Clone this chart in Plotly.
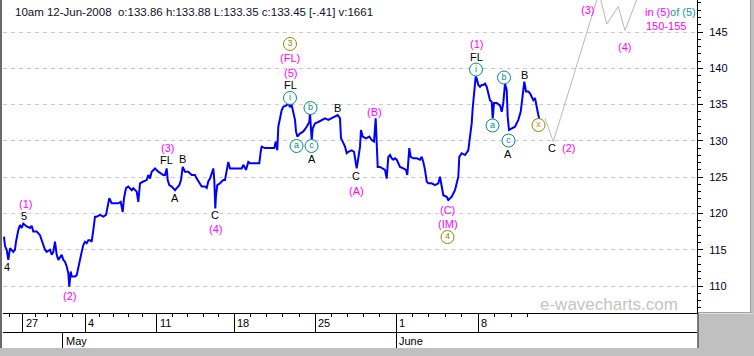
import numpy as np
import plotly.graph_objects as go

# ---------------- data ----------------
bars = [1, 2, 3.7, 5.3, 7, 10.3, 12, 13, 15.3, 17, 18.7, 20.3, 23.7, 27, 28.7, 30.3, 33.7, 37, 38.7, 40.3,
        42, 43.7, 47, 48.7, 50.3, 52, 53.7, 55.3, 57, 58.7, 60.3, 62, 63.7, 65.3, 66.3, 67.7, 68.7, 72, 73.7, 75.3,
        77, 78.7, 80.3, 82, 83.7, 85.3, 87, 88.7, 90.3, 92, 93.7, 97, 100.3, 103, 104.3, 106.3, 108.7, 112, 115.3, 117.7,
        119.7, 121, 123, 125.3, 128.7, 130.3, 133.7, 135.3, 137, 140.3, 143.7, 145.3, 147, 148.7, 150.3, 152, 155.3, 158.7, 160.3, 162,
        163.7, 164.7, 166.3, 168.7, 172, 173.7, 176.3, 178, 179.7, 182, 185.3, 188.7, 192, 193.7, 195.3, 197, 198.7, 202, 203.7, 205.3,
        207, 208.7, 210.3, 211.3, 212.3, 213, 214.3, 217, 220.3, 222, 223.7, 225.3, 227, 230.3, 233.7, 236.3, 238.7, 240.3, 243, 245.3,
        247, 250.3, 253.7, 256.3, 257.7, 258.7, 262, 265.3, 268.7, 271.3, 272.7, 274.3, 275.3, 277, 278.7, 280.3, 283.7, 285, 287, 288.7,
        290.3, 292, 293, 294.3, 297, 300.3, 303.7, 306.3, 307, 308, 308.7, 309.7, 312, 315.3, 318.7, 322, 325.3, 328.7, 332, 334.7,
        337, 338, 339.7, 342, 343.7, 345.3, 348.7, 351, 352.3, 353.7, 355.3, 357, 358, 359.7, 363, 366.3, 368.7, 371, 372.7, 373.7,
        374.7, 377, 380.3, 382, 383.7, 385.3, 387, 388.7, 390.3, 392, 393.7, 397, 400.3, 403, 404.3, 406.3, 407.7, 410.3, 413.7, 417,
        418.7, 420.3, 422, 423.7, 425.3, 428.7, 432, 435.3, 437, 438.7, 440.3, 443.7, 445.3, 448.7, 452, 453.7, 455.3, 456.3, 458.7, 462,
        465.3, 467, 468.7, 469.7, 471, 472.7, 473.7, 475.3, 477, 478.7, 480.3, 482, 483.7, 485.3, 487, 488.7, 489.7, 491, 493.7, 497,
        498.7, 500.3, 502, 503.7, 504.7, 506, 508.7, 512, 515.3, 517.7, 519.7, 521.3, 523, 525.3, 527, 528.7, 530.3, 532, 533.7, 535.3, 536.3]
prices = [116.8, 115.5, 115.0, 113.6, 115.2, 114.7, 115.0, 116.1, 117.7, 118.4, 118.0, 118.6, 118.2, 118.0, 118.3, 117.5, 117.5, 117.0, 116.3, 115.7,
          115.0, 114.7, 115.0, 114.3, 114.7, 116.1, 114.3, 113.6, 114.0, 114.3, 113.6, 113.35, 112.7, 111.75, 109.9, 112.0, 111.3, 111.3, 111.5, 112.7,
          113.6, 114.7, 115.65, 116.1, 115.9, 116.3, 116.3, 116.1, 117.7, 119.55, 119.55, 119.8, 119.55, 119.8, 120.7, 122.1, 121.4, 121.4, 121.4, 121.6,
          120.2, 122.1, 123.5, 123.7, 123.2, 123.46, 123.0, 121.6, 124.15, 124.4, 124.6, 125.3, 124.8, 125.75, 126.0, 126.2, 125.75, 125.5, 125.3, 125.3,
          126.2, 124.6, 123.9, 123.7, 123.2, 123.5, 123.9, 124.6, 126.4, 125.75, 125.75, 125.3, 125.3, 124.8, 124.4, 124.15, 123.7, 123.7, 123.5, 124.4,
          124.8, 125.5, 126.2, 124.6, 120.7, 122.5, 123.9, 124.15, 124.6, 124.6, 125.75, 127.1, 126.2, 126.2, 126.2, 126.2, 126.2, 126.7, 126.0, 127.1,
          126.9, 126.9, 126.9, 126.9, 128.5, 129.2, 129.0, 129.0, 129.0, 129.0, 129.9, 128.7, 131.95, 132.9, 134.25, 134.7, 134.9, 135.2, 134.7, 134.9,
          133.8, 132.9, 131.3, 130.6, 131.0, 131.3, 131.95, 132.6, 133.8, 132.2, 130.1, 131.7, 132.4, 132.6, 132.9, 133.1, 132.9, 133.1, 133.3, 133.56,
          133.1, 130.35, 129.9, 129.2, 128.3, 128.5, 128.7, 128.5, 127.4, 126.2, 127.6, 129.2, 131.5, 130.6, 130.35, 130.6, 130.1, 129.9, 133.1, 128.5,
          126.4, 126.4, 126.2, 126.0, 124.8, 127.8, 128.05, 127.6, 127.4, 127.6, 127.4, 126.4, 126.2, 126.0, 125.3, 129.0, 127.8, 127.6, 127.6, 127.4,
          127.8, 127.1, 126.0, 124.4, 124.15, 124.15, 123.9, 124.15, 125.06, 123.7, 122.5, 122.3, 121.85, 122.3, 123.2, 124.15, 125.06, 127.8, 128.3, 128.05,
          128.7, 130.6, 132.4, 134.5, 136.55, 138.84, 138.6, 137.7, 137.46, 137.7, 137.7, 137.9, 137.46, 136.55, 135.6, 135.4, 133.1, 135.2, 135.2, 134.9,
          134.0, 135.2, 137.9, 137.0, 133.3, 131.5, 131.7, 131.95, 132.9, 134.0, 136.3, 138.15, 136.8, 136.8, 136.55, 136.1, 135.6, 135.9, 134.5, 133.56, 133.0]

proj_bars = [542, 550.3, 596, 603.7, 615.3, 622, 642]
proj_prices = [133.1, 129.9, 150.4, 146.1, 148.5, 145.2, 152.5]

week_ticks = [19.7, 82.3, 153.7, 231.3, 312.3, 393.0, 475.3]
week_labels = ["27", "4", "11", "18", "25", "1", "8"]
month_ticks = [59.5, 393.0]
month_labels = ["May", "June"]
y_ticks = [110, 115, 120, 125, 130, 135, 140, 145]
header_text = "10am 12-Jun-2008  o:133.86 h:133.88 L:133.35 c:133.45 [-.41] v:1661"

# ---------------- layout geometry ----------------
W, H = 754, 356
ML, MR, MT, MB = 3, 57, 0, 8
PW = W - ML - MR
PH = H - MT - MB
PLOT_BOTTOM = 313
ydom0 = (PH - PLOT_BOTTOM) / PH


def pxx(x):
    return (x - ML) / PW


def pxy(y):
    return (PH - (y - MT)) / PH


MAG = "#ff00ff"
BLK = "#000000"
TEAL = "#008b8b"
OLIVE = "#8b8b00"
FONT = "Liberation Sans, Arial, sans-serif"

# minor (day) ticks
minor = []
for a, b in zip(week_ticks[:-1], week_ticks[1:]):
    minor += list(np.linspace(a, b, 6)[1:-1])
minor += [week_ticks[0] - 13]
minor += [week_ticks[-1] + 16.5 * k for k in (1, 2, 3)]

fig = go.Figure()
fig.add_trace(go.Scatter(x=proj_bars, y=proj_prices, mode="lines",
                         line=dict(color="#b8b8b8", width=1), hoverinfo="skip", showlegend=False))
fig.add_trace(go.Scatter(x=bars, y=prices, mode="lines",
                         line=dict(color="#0000ff", width=2), hoverinfo="skip", showlegend=False))

# dummy traces to activate helper axes
for ax in ("x2", "x3"):
    fig.add_trace(go.Scatter(x=[100], y=[0], xaxis=ax, yaxis="y", mode="markers",
                             marker=dict(opacity=0), hoverinfo="skip", showlegend=False))

# plain wave labels
plain_labels = [
    ("4", 4, 112.62, BLK), ("5", 21, 119.64, BLK), ("(1)", 22, 121.3, MAG), ("(2)", 66, 108.62, MAG),
    ("(3)", 164, 129.02, MAG), ("FL", 163, 127.36, BLK), ("B", 179, 127.5, BLK), ("A", 172, 122.12, BLK),
    ("C", 212, 119.78, BLK), ("(4)", 212, 117.85, MAG),
    ("(FL)", 287, 141.35, MAG), ("(5)", 287, 139.42, MAG), ("FL", 287, 137.63, BLK),
    ("A", 308.5, 127.5, BLK), ("B", 334, 134.53, BLK), ("(B)", 371, 134.04, MAG),
    ("C", 353, 125.16, BLK), ("(A)", 353.5, 123.09, MAG),
    ("(C)", 444.5, 120.47, MAG), ("(IM)", 444.5, 118.61, MAG),
    ("(1)", 473, 143.35, MAG), ("FL", 473, 141.56, BLK),
    ("A", 504.5, 128.19, BLK), ("B", 521, 139.14, BLK),
    ("C", 548.5, 128.95, BLK), ("(2)", 565, 128.95, MAG),
    ("(3)", 584, 148.03, MAG), ("(4)", 621, 143.0, MAG),
]
annotations = []
for t, x, y, c in plain_labels:
    annotations.append(dict(text=t, x=x, y=y, xref="x", yref="y", showarrow=False,
                            font=dict(family=FONT, size=11, color=c), xanchor="center", yanchor="middle"))

annotations.append(dict(text='<span style="color:#ff00ff">in (5)</span><span style="color:#229999">of (5)</span>',
                        x=640, y=147.76, xref="x", yref="y", showarrow=False, xanchor="left", yanchor="middle",
                        font=dict(family=FONT, size=11)))
annotations.append(dict(text="150-155", x=641, y=145.83, xref="x", yref="y", showarrow=False,
                        xanchor="left", yanchor="middle", font=dict(family=FONT, size=11, color=MAG)))
annotations.append(dict(text="e-wavecharts.com", x=606, y=107.5, xref="x", yref="y", showarrow=False,
                        xanchor="center", yanchor="middle", font=dict(family=FONT, size=17, color="#c4c4c4")))
annotations.append(dict(text=header_text, x=pxx(13), y=pxy(12), xref="paper", yref="paper", showarrow=False,
                        xanchor="left", yanchor="middle", font=dict(family=FONT, size=11.5, color="#101028")))
for t, x in zip(week_labels, week_ticks):
    annotations.append(dict(text=t, x=x, y=pxy(323), xref="x", yref="paper", showarrow=False, xshift=1,
                            xanchor="left", yanchor="middle", font=dict(family=FONT, size=11, color=BLK)))
for t, x in zip(month_labels, month_ticks):
    annotations.append(dict(text=t, x=x, y=pxy(340.5), xref="x", yref="paper", showarrow=False, xshift=1,
                            xanchor="left", yanchor="middle", font=dict(family=FONT, size=11, color=BLK)))

# circled labels
circ_teal = [("i", 287, 135.91), ("a", 293.5, 129.29), ("b", 307.5, 134.53), ("c", 308.5, 129.29),
             ("i", 473, 139.83), ("a", 489.5, 132.12), ("b", 501, 138.73), ("c", 505.5, 130.05)]
circ_olive = [("3", 287, 143.35), ("4", 444.5, 116.75)]
circ_end = [("x", 535.5, 132.18)]
for group, lc, tc in ((circ_teal, TEAL, TEAL), (circ_olive, OLIVE, OLIVE), (circ_end, OLIVE, "#e08a00")):
    fig.add_trace(go.Scatter(x=[g[1] for g in group], y=[g[2] for g in group], text=[g[0] for g in group],
                             mode="markers+text", textposition="middle center", cliponaxis=False,
                             marker=dict(symbol="circle", size=13, color="white", line=dict(color=lc, width=1)),
                             textfont=dict(family=FONT, size=9, color=tc), hoverinfo="skip", showlegend=False))

shapes = [
    # gray surroundings
    dict(type="rect", xref="paper", yref="paper", x0=pxx(0), x1=pxx(W), y0=pxy(348), y1=pxy(H),
         fillcolor="#c0c0c0", line=dict(width=0), layer="above"),
    dict(type="rect", xref="paper", yref="paper", x0=pxx(698.5), x1=pxx(W), y0=pxy(313.5), y1=pxy(348),
         fillcolor="#c0c0c0", line=dict(width=0), layer="above"),
    dict(type="rect", xref="paper", yref="paper", x0=pxx(751), x1=pxx(W), y0=pxy(0), y1=pxy(313.5),
         fillcolor="#c0c0c0", line=dict(width=0), layer="above"),
    # right panel border
    dict(type="line", xref="paper", yref="paper", x0=pxx(750.5), x1=pxx(750.5), y0=pxy(0), y1=pxy(313),
         line=dict(color="#a0a0a0", width=1), layer="above"),
    dict(type="line", xref="paper", yref="paper", x0=pxx(698), x1=pxx(751), y0=pxy(312.5), y1=pxy(312.5),
         line=dict(color="#a0a0a0", width=1), layer="above"),
    # date strip right border
    dict(type="line", xref="paper", yref="paper", x0=pxx(698), x1=pxx(698), y0=pxy(313), y1=pxy(348),
         line=dict(color="#000000", width=1), layer="above"),
    # left border
    dict(type="rect", xref="paper", yref="paper", x0=pxx(0), x1=pxx(2), y0=pxy(0), y1=pxy(348),
         fillcolor="#6a6a6a", line=dict(width=0), layer="above"),
]

fig.update_layout(
    width=W, height=H,
    margin=dict(l=ML, r=MR, t=MT, b=MB, pad=0),
    paper_bgcolor="white", plot_bgcolor="white",
    showlegend=False,
    xaxis=dict(range=[0, PW], domain=[0, 1], anchor="y", showline=True, linecolor="black", linewidth=1,
               ticks="outside", tickmode="array", tickvals=week_ticks, ticklen=19, tickcolor="black", tickwidth=1,
               showticklabels=False, showgrid=False, zeroline=False, fixedrange=True,
               minor=dict(tickmode="array", tickvals=minor, ticks="outside", ticklen=3, tickcolor="black", showgrid=False)),
    xaxis2=dict(matches="x", overlaying="x", anchor="free", position=0, showline=True, linecolor="#909090",
                ticks="inside", tickmode="array", tickvals=month_ticks, ticklen=16, tickcolor="black",
                showticklabels=False, showgrid=False, zeroline=False),
    xaxis3=dict(matches="x", overlaying="x", anchor="free", position=pxy(332), showline=True, linecolor="black",
                ticks="", showticklabels=False, showgrid=False, zeroline=False),
    yaxis=dict(range=[106.28, 149.41], domain=[ydom0, 1], side="right", anchor="x", showline=True,
               linecolor="black", linewidth=1, ticks="outside", ticklen=5, tickcolor="black",
               tickmode="array", tickvals=y_ticks, tickfont=dict(family=FONT, size=11, color="#000020"),
               ticklabelstandoff=4,
               showgrid=True, gridcolor="#cccccc", griddash="4px,4px", gridwidth=1, zeroline=False,
               minor=dict(tickmode="linear", tick0=0, dtick=1, ticks="outside", ticklen=3, tickcolor="black",
                          showgrid=False)),
    annotations=annotations,
    shapes=shapes,
)

fig.write_html("out.html")
